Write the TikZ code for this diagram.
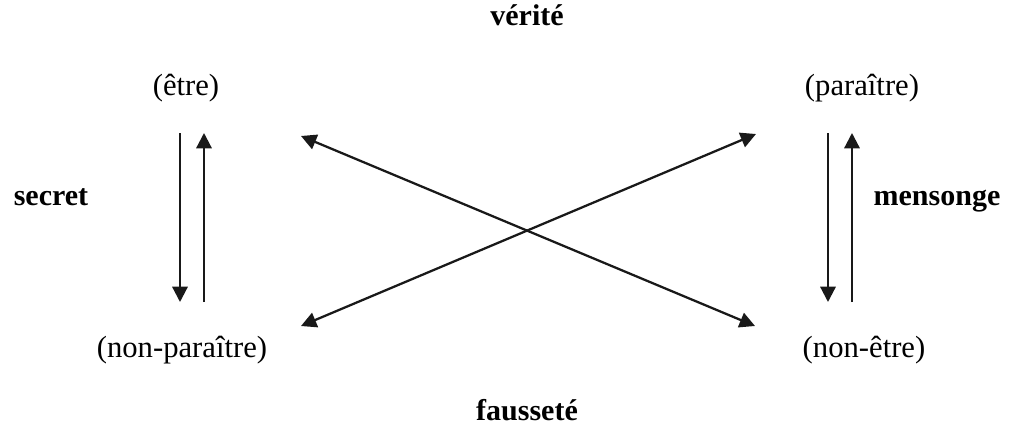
\documentclass[tikz,border=0pt]{standalone}
\usepackage{fontspec}
\setmainfont{Liberation Serif}
\usepackage{tikz}
\usetikzlibrary{arrows.meta}

\begin{document}
\begin{tikzpicture}[
      x=0.75pt, y=-0.75pt,
      term/.style={font=\fontsize{23}{27}\selectfont, anchor=base, inner sep=0pt},
      rel/.style={font=\fontsize{22.5}{27}\selectfont\bfseries, anchor=base, inner sep=0pt},
      arr/.style={-{Triangle[length=11.5pt,width=11.5pt]}, line width=1.7pt, draw=black!90},
      twoway/.style={{Triangle[length=11.5pt,width=11.5pt]}-{Triangle[length=11.5pt,width=11.5pt]}}
    ]
      \useasboundingbox (0,0) rectangle (1014,428);

      % the four positions
      \node[term] (etre) at (186,96) {(être)};
      \node[term] (paraitre) at (862,96) {(paraître)};
      \node[term] (nonparaitre) at (182,357) {(non-paraître)};
      \node[term] (nonetre) at (864,357) {(non-être)};

      % relations
      \node[rel] (verite) at (527,26) {vérité};
      \node[rel] (faussete) at (527,420) {fausseté};
      \node[rel] (secret) at (51,205) {secret};
      \node[rel] (mensonge) at (937,205) {mensonge};

      % arrow ends
      \coordinate (sA) at (180,133);
      \coordinate (sB) at (180,302);
      \coordinate (sC) at (204,302);
      \coordinate (sD) at (204,133);
      \coordinate (mA) at (828,133);
      \coordinate (mB) at (828,302);
      \coordinate (mC) at (852,302);
      \coordinate (mD) at (852,133);
      \coordinate (xA) at (301,136);
      \coordinate (xB) at (755,326);
      \coordinate (xC) at (301,326);
      \coordinate (xD) at (756,134);

      % left and right pairs
      \draw[arr] (sA) -- (sB);
      \draw[arr] (sC) -- (sD);
      \draw[arr] (mA) -- (mB);
      \draw[arr] (mC) -- (mD);

      % crossing
      \draw[arr, twoway] (xA) -- (xB);
      \draw[arr, twoway] (xC) -- (xD);
    \end{tikzpicture}
\end{document}
